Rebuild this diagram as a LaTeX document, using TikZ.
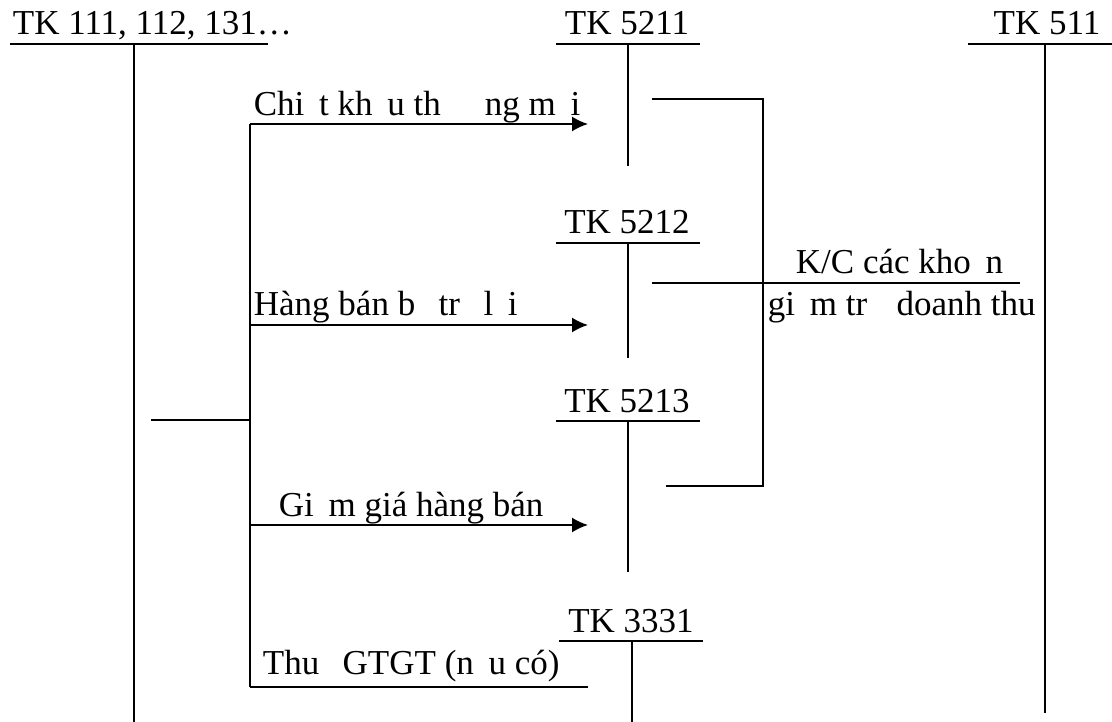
\documentclass[tikz,border=0pt]{standalone}
\usepackage{fontspec}
\setmainfont{Liberation Serif}
\usetikzlibrary{arrows.meta}
\newcommand{\miss}{\hspace{0.42em}}

\begin{document}
\begin{tikzpicture}[x=1pt,y=-1pt, line width=1.8pt,
  lbl/.style={inner sep=0pt,anchor=base west,font=\fontsize{35}{38}\selectfont},
  ttl/.style={inner sep=0pt,anchor=base,font=\fontsize{35}{38}\selectfont},
  arr/.style={-{Latex[length=16pt,width=15pt]}}]
\useasboundingbox (0,0) rectangle (1112,722);

% T accounts
\node[lbl] (tk111) at (12,35) {TK 111, 112, 131…};
\coordinate (t1l) at (10,44); \coordinate (t1r) at (268,44);
\coordinate (t1a) at (134,44); \coordinate (t1b) at (134,722);
\draw (t1l) -- (t1r); \draw (t1a) -- (t1b);

\node[ttl] (tk5211) at (627,35) {TK 5211};
\coordinate (t2l) at (556,44); \coordinate (t2r) at (700,44);
\coordinate (t2a) at (628,44); \coordinate (t2b) at (628,166);
\draw (t2l) -- (t2r); \draw (t2a) -- (t2b);

\node[ttl] (tk5212) at (627,234) {TK 5212};
\coordinate (t3l) at (556,243); \coordinate (t3r) at (700,243);
\coordinate (t3a) at (628,243); \coordinate (t3b) at (628,358);
\draw (t3l) -- (t3r); \draw (t3a) -- (t3b);

\node[ttl] (tk5213) at (627,412) {TK 5213};
\coordinate (t4l) at (556,421); \coordinate (t4r) at (700,421);
\coordinate (t4a) at (628,421); \coordinate (t4b) at (628,572);
\draw (t4l) -- (t4r); \draw (t4a) -- (t4b);

\node[ttl] (tk3331) at (631,632) {TK 3331};
\coordinate (t5l) at (559,641); \coordinate (t5r) at (703,641);
\coordinate (t5a) at (632,641); \coordinate (t5b) at (632,722);
\draw (t5l) -- (t5r); \draw (t5a) -- (t5b);

\node[ttl] (tk511) at (1047,35) {TK 511};
\coordinate (t6l) at (968,44); \coordinate (t6r) at (1112,44);
\coordinate (t6a) at (1045,44); \coordinate (t6b) at (1045,713);
\draw (t6l) -- (t6r); \draw (t6a) -- (t6b);

% branch from TK 111
\coordinate (bs) at (151,420); \coordinate (bm) at (250,420);
\coordinate (b1) at (250,124); \coordinate (b2) at (250,325);
\coordinate (b3) at (250,525); \coordinate (b4) at (250,687);
\coordinate (e1) at (588,124); \coordinate (e2) at (588,325);
\coordinate (e3) at (588,525); \coordinate (e4) at (588,687);
\draw (bs) -- (bm);
\draw (b1) -- (b4);
\draw[arr] (b1) -- (e1);
\draw[arr] (b2) -- (e2);
\draw[arr] (b3) -- (e3);
\draw (b4) -- (e4);
\node[lbl] (lblck) at (253,116) {Chi\miss t kh\miss u th\miss\miss\miss ng m\miss i};
\node[lbl] (lblhb) at (253,316) {Hàng bán b\miss\ tr\miss\ l\miss i};
\node[lbl] (lblgg) at (278,516) {Gi\miss m giá hàng bán};
\node[lbl] (lblth) at (262,674) {Thu\miss\ GTGT (n\miss u có)};

% closing to TK 511
\coordinate (k1) at (652,99); \coordinate (k2) at (763,99);
\coordinate (k3) at (763,486); \coordinate (k4) at (666,486);
\coordinate (km) at (652,283); \coordinate (ke) at (1020,283);
\draw (k1) -- (k2) -- (k3) -- (k4);
\draw (km) -- (ke);
\node[lbl] (lblkc1) at (795,274) {K/C các kho\miss n};
\node[lbl] (lblkc2) at (767,316) {gi\miss m tr\miss\miss doanh thu};
\end{tikzpicture}
\end{document}
